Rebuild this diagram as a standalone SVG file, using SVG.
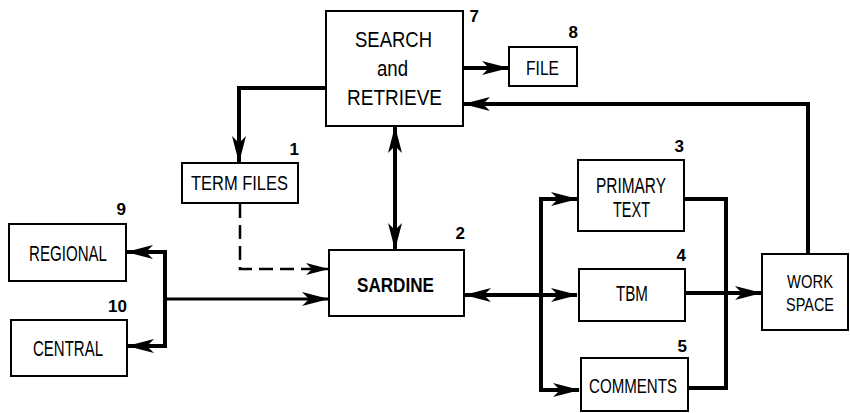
<svg xmlns="http://www.w3.org/2000/svg" width="850" height="413" viewBox="0 0 850 413">
<defs>
<style>
.box{fill:#fff;stroke:#000;stroke-width:2}
.lbl{font-family:"Liberation Sans Narrow","Liberation Sans",Arial,sans-serif;font-size:20px;fill:#000}
.big{font-size:22px}
.sm{font-size:18px}
.b{font-weight:bold}
.num{font-family:"Liberation Sans Narrow","Liberation Sans",Arial,sans-serif;font-size:17px;font-weight:bold;fill:#000;text-anchor:end}
.c{fill:none;stroke:#000;stroke-width:4;stroke-linejoin:miter}
.thin{stroke-width:3}
.dash{stroke-width:2.5;stroke-dasharray:14,7}
</style>
<marker id="ah" markerUnits="userSpaceOnUse" viewBox="-26 -8 28 16" refX="0" refY="0" markerWidth="28" markerHeight="16" orient="auto-start-reverse">
<path d="M1,0 L-26,-7 L-19,0 L-26,7 Z" fill="#000"/>
</marker>
<marker id="as" markerUnits="userSpaceOnUse" viewBox="-24 -7 26 14" refX="0" refY="0" markerWidth="26" markerHeight="14" orient="auto-start-reverse">
<path d="M1,0 L-22,-6 L-16,0 L-22,6 Z" fill="#000"/>
</marker>
</defs>
<rect width="850" height="413" fill="#fff"/>
<g id="connectors">
<path class="c" d="M463,68 H508" marker-end="url(#ah)"/>
<path class="c" d="M808,254 V104 H464" marker-end="url(#ah)"/>
<path class="c" d="M326,88 H239 V162" marker-end="url(#ah)"/>
<path class="c" d="M395,127 V249" marker-start="url(#ah)" marker-end="url(#ah)"/>
<path class="c dash" d="M240,204 V269 H328" marker-end="url(#as)"/>
<path class="c" d="M127,252 H165 V346 H128" marker-start="url(#ah)" marker-end="url(#ah)"/>
<path class="c thin" d="M165,299 H328" marker-end="url(#ah)"/>
<path class="c" d="M465,295 H577" marker-start="url(#ah)" marker-end="url(#ah)"/>
<path class="c" d="M577,199 H541 V390 H579" marker-start="url(#ah)" marker-end="url(#ah)"/>
<path class="c" d="M685,199 H726 V388 H688"/>
<path class="c" d="M686,293 H761" marker-end="url(#ah)"/>
</g>
<g id="n7">
<rect class="box" x="326" y="11" width="137" height="115"/>
<text class="lbl big" x="355" y="47" textLength="77" lengthAdjust="spacingAndGlyphs">SEARCH</text>
<text class="lbl big" x="377" y="76" textLength="31" lengthAdjust="spacingAndGlyphs">and</text>
<text class="lbl big" x="347" y="105" textLength="95" lengthAdjust="spacingAndGlyphs">RETRIEVE</text>
<text class="num" x="479" y="22">7</text>
</g>
<g id="n8">
<rect class="box" x="509" y="47" width="68" height="39"/>
<text class="lbl" x="526" y="75" textLength="33" lengthAdjust="spacingAndGlyphs">FILE</text>
<text class="num" x="578" y="38">8</text>
</g>
<g id="n1">
<rect class="box" x="182" y="163" width="116" height="40"/>
<text class="lbl" x="191" y="190" textLength="97" lengthAdjust="spacingAndGlyphs">TERM FILES</text>
<text class="num" x="299" y="155">1</text>
</g>
<g id="n2">
<rect class="box" x="329" y="250" width="135" height="66"/>
<text class="lbl b" x="357" y="292" textLength="77" lengthAdjust="spacingAndGlyphs">SARDINE</text>
<text class="num" x="465" y="239">2</text>
</g>
<g id="n9">
<rect class="box" x="9" y="224" width="117" height="57"/>
<text class="lbl big" x="29" y="261" textLength="78" lengthAdjust="spacingAndGlyphs">REGIONAL</text>
<text class="num" x="126" y="215">9</text>
</g>
<g id="n10">
<rect class="box" x="11" y="320" width="116" height="56"/>
<text class="lbl big" x="33" y="356" textLength="70" lengthAdjust="spacingAndGlyphs">CENTRAL</text>
<text class="num" x="127" y="312">10</text>
</g>
<g id="n3">
<rect class="box" x="578" y="160" width="106" height="71"/>
<text class="lbl big" x="596" y="193" textLength="70" lengthAdjust="spacingAndGlyphs">PRIMARY</text>
<text class="lbl big" x="613" y="217" textLength="37" lengthAdjust="spacingAndGlyphs">TEXT</text>
<text class="num" x="684" y="152">3</text>
</g>
<g id="n4">
<rect class="box" x="579" y="269" width="106" height="52"/>
<text class="lbl big" x="616" y="301" textLength="32" lengthAdjust="spacingAndGlyphs">TBM</text>
<text class="num" x="686" y="261">4</text>
</g>
<g id="n5">
<rect class="box" x="581" y="358" width="107" height="53"/>
<text class="lbl" x="589" y="393" textLength="88" lengthAdjust="spacingAndGlyphs">COMMENTS</text>
<text class="num" x="687" y="352">5</text>
</g>
<g id="n6">
<rect class="box" x="762" y="254" width="86" height="76"/>
<text class="lbl sm" x="787" y="288" textLength="46" lengthAdjust="spacingAndGlyphs">WORK</text>
<text class="lbl sm" x="786" y="311" textLength="48" lengthAdjust="spacingAndGlyphs">SPACE</text>
</g>
</svg>
